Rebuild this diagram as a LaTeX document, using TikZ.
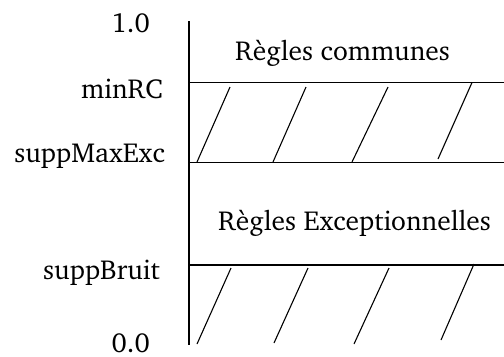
\documentclass[tikz,border=0pt]{standalone}
\usepackage[T1]{fontenc}
\usepackage{charter}
\begin{document}
\begin{tikzpicture}[x=1bp,y=-1bp,
  lbl/.style={anchor=base east,inner sep=0pt,font=\fontsize{27.6}{30}\selectfont},
  zone/.style={anchor=base west,inner sep=0pt,font=\fontsize{27.6}{30}\selectfont},
  ln/.style={line width=1.1pt}]
\useasboundingbox (0,0) rectangle (504,356);
% axis
\coordinate (top) at (189,21);
\coordinate (bot) at (189,345);
\draw[ln] (top) -- (bot);
% levels
\coordinate (rcL) at (189,82.5);
\coordinate (rcR) at (504,82.5);
\coordinate (mxL) at (189,162.5);
\coordinate (mxR) at (504,162.5);
\coordinate (brL) at (189,265);
\coordinate (brR) at (504,265);
\draw[ln] (rcL) -- (rcR);
\draw[ln] (mxL) -- (mxR);
\draw[ln] (brL) -- (brR);
% hatch upper band
\draw[ln] (197,162) -- (230,87);
\draw[ln] (273,162) -- (306,87);
\draw[ln] (352,162) -- (388,87);
\draw[ln] (438,159) -- (472,82.5);
% hatch lower band
\draw[ln] (197,344) -- (231,268);
\draw[ln] (274,343) -- (308,268);
\draw[ln] (354,344) -- (389,268);
\draw[ln] (441,340) -- (474,264);
% labels
\node[lbl] (l10) at (150,32) {1.0};
\node[lbl] (lrc) at (163,98) {minRC};
\node[lbl] (lmx) at (165,162) {suppMaxExc};
\node[lbl] (lbr) at (160,279) {suppBruit};
\node[lbl] (l00) at (150,352.5) {0.0};
\node[zone] (rc) at (235,60) {R\`egles communes};
\node[zone] (re) at (218,230) {R\`egles Exceptionnelles};
\end{tikzpicture}
\end{document}
